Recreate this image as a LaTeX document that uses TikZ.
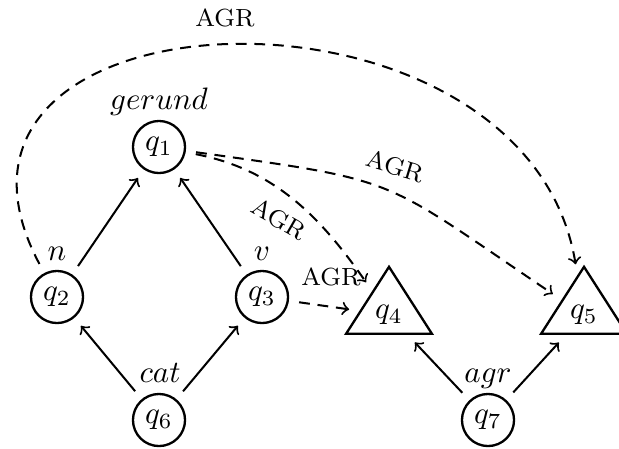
\documentclass[tikz,border=0pt]{standalone}
\usetikzlibrary{shapes.geometric}
\begin{document}
\begin{tikzpicture}[x=0.3226pt,y=0.3226pt,
  state/.style={circle,draw,line width=0.75pt,minimum size=16.8pt,inner sep=0pt},
  tri/.style={isosceles triangle, isosceles triangle stretches, shape border rotate=90, draw, line width=0.75pt, minimum width=27.7pt, minimum height=21.6pt, inner sep=0pt},
  lab/.style={anchor=base, inner sep=0pt},
  agr/.style={font=\footnotesize, inner sep=0pt},
  edge/.style={->, line width=0.65pt, shorten <=3.3pt, shorten >=3.3pt},
  dedge/.style={edge, dash pattern=on 3.5pt off 2.5pt}]
\useasboundingbox (0,0) rectangle (619,448);
\node[state] (q1) at (159,301) {$q_1$};
\node[state] (q2) at (57,151) {$q_2$};
\node[state] (q3) at (262,151) {$q_3$};
\node[state] (q6) at (159,28) {$q_6$};
\node[state] (q7) at (488,28) {$q_7$};
\node[tri] (q4) at (389,133) {$q_4$};
\node[tri] (q5) at (584,133) {$q_5$};
\node[lab] (lq1) at (159,339) {$gerund$};
\node[lab] (lq2) at (57,188) {$n$};
\node[lab] (lq3) at (262,188) {$v$};
\node[lab] (lq6) at (160,66) {$cat$};
\node[lab] (lq7) at (488,66) {$agr$};
\node[agr] (a1) at (225,430) {AGR};
\node[agr,rotate=-30] (a2) at (279,229) {AGR};
\node[agr,rotate=-17] (a3) at (395,282) {AGR};
\node[agr] (a4) at (331,171) {AGR};
\draw[edge] (q2) -- (q1);
\draw[edge] (q3) -- (q1);
\draw[edge] (q6) -- (q2);
\draw[edge] (q6) -- (q3);
\draw[edge] (q7) -- (q4);
\draw[edge] (q7) -- (q5);
\draw[dedge] (q3) -- (q4);
\draw[dedge] (q1) to[out=-11,in=125] (q4);
\draw[dedge] (q1) to[out=-8,in=146,looseness=1.4] (q5);
\draw[dedge] (q2) .. controls +(118:356) and +(99.4:361) .. (q5);
\end{tikzpicture}
\end{document}
